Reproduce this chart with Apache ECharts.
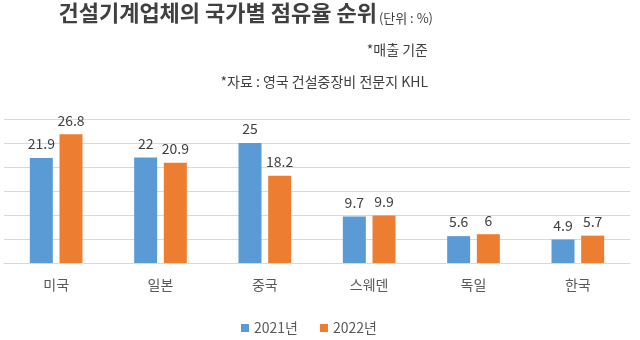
<!DOCTYPE html>
<html><head><meta charset="utf-8">
<script src="https://cdn.jsdelivr.net/npm/echarts@6/dist/echarts.min.js"></script>
<style>html,body{margin:0;padding:0;background:#fff}#c{width:640px;height:340px}</style>
</head><body><div id="c"></div>
<script>
const categories = ['미국','일본','중국','스웨덴','독일','한국'];
const seriesNames = ['2021년','2022년'];
const values2021 = [21.9, 22, 25, 9.7, 5.6, 4.9];
const values2022 = [26.8, 20.9, 18.2, 9.9, 6, 5.7];
const titleText = '건설기계업체의 국가별 점유율 순위';
const unitText = '(단위 : %)';
const note1 = '*매출 기준';
const note2 = '*자료 : 영국 건설중장비 전문지 KHL';

const font = '"Noto Sans CJK KR", "Noto Sans", sans-serif';
const chart = echarts.init(document.getElementById('c'), null, {renderer:'canvas'});
const labelCfg = {show:true, position:'top', distance:7, color:'#404040', fontSize:14, fontFamily:font};
chart.setOption({
  animation:false,
  backgroundColor:'#fff',
  title:[
    {text:titleText, right:263, top:2, padding:0,
     textStyle:{fontSize:22, fontWeight:'bold', color:'#404040', fontFamily:font}},
    {text:unitText, right:207, top:12, padding:0,
     textStyle:{fontSize:13, fontWeight:'normal', color:'#404040', fontFamily:font}},
    {text:note1, right:207, top:38, textStyle:{fontSize:14, fontWeight:'normal', color:'#404040', fontFamily:font}},
    {text:note2, right:207, top:70, textStyle:{fontSize:14, fontWeight:'normal', color:'#404040', fontFamily:font}}
  ],
  legend:{data:seriesNames, left:236, top:316, itemWidth:8, itemHeight:8, itemGap:22,
    icon:'rect', textStyle:{fontSize:14, color:'#595959', fontFamily:font}},
  grid:{left:4, right:10, top:119, bottom:77, containLabel:false},
  xAxis:{type:'category', data:categories,
    axisLine:{show:true, lineStyle:{color:'#d9d9d9'}}, axisTick:{show:false},
    axisLabel:{fontSize:14, color:'#595959', fontFamily:font, margin:15}},
  yAxis:{type:'value', min:0, max:30, interval:5,
    axisLabel:{show:false}, axisLine:{show:false}, axisTick:{show:false},
    splitLine:{lineStyle:{color:'#d9d9d9', width:1}}},
  series:[
    {name:seriesNames[0], type:'bar', data:values2021, barWidth:23, barGap:'29%',
     itemStyle:{color:'#5B9BD5'}, label:labelCfg},
    {name:seriesNames[1], type:'bar', data:values2022, barWidth:23,
     itemStyle:{color:'#ED7D31'}, label:labelCfg}
  ]
});
</script></body></html>
